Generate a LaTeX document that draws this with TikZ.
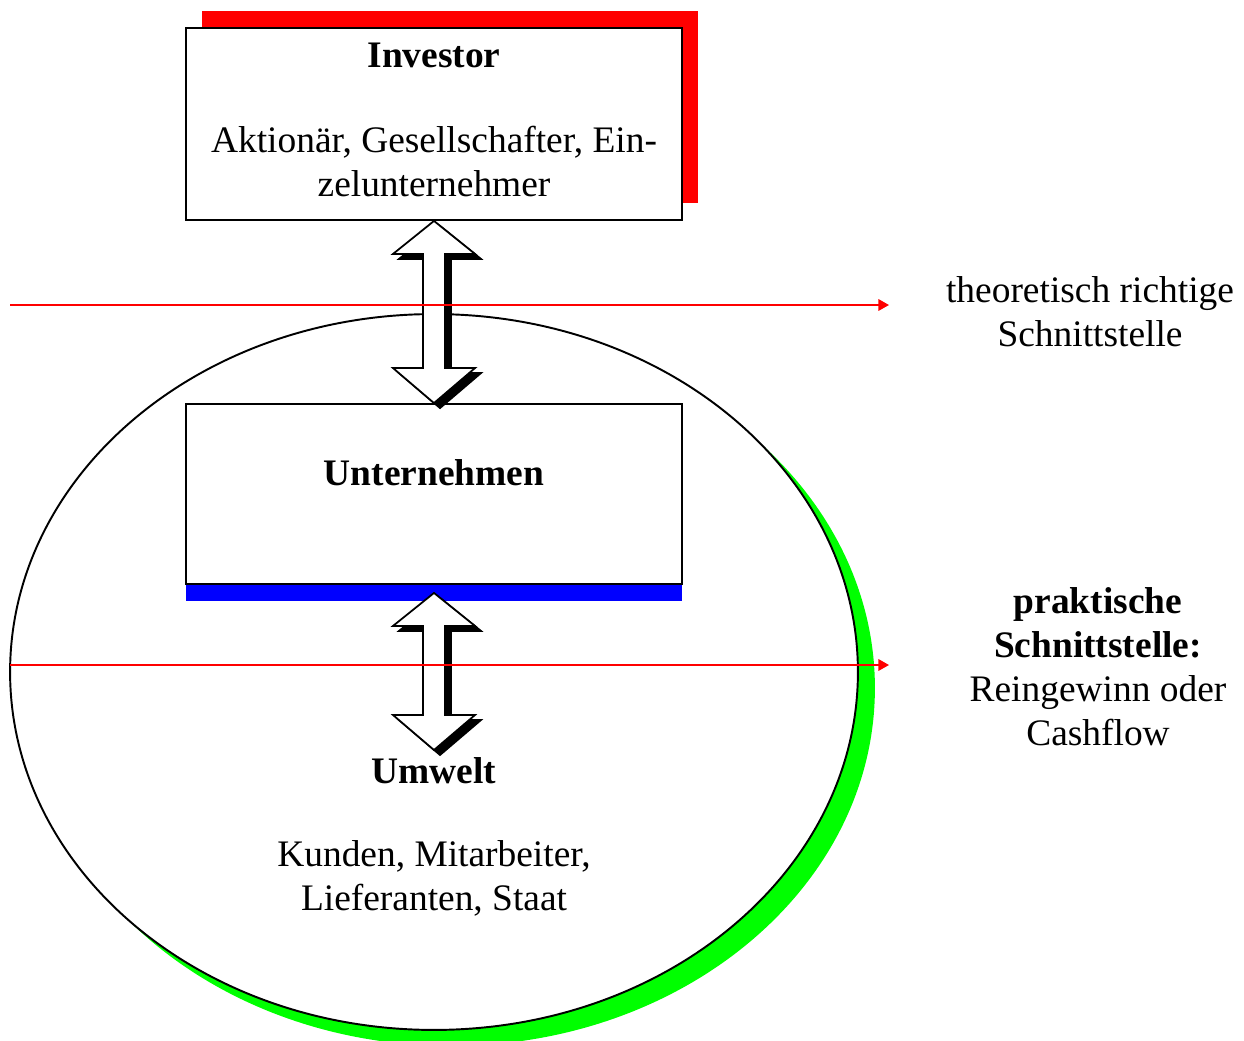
\documentclass[tikz,border=0pt]{standalone}
\usepackage{fontspec}
\setmainfont{Liberation Serif}
\usetikzlibrary{shapes.geometric,shadows,calc,arrows.meta}
% hollow double arrow with a black shadow, from #1 (top tip) to #2 (bottom tip)
\newcommand{\dblarrow}[2]{%
	\foreach \dx/\dy/\sty in {6/5/arrshadow,0/0/arrbody}
	\draw[\sty] ($(#1)+(\dx,\dy)$) -- ($(#1)+(\dx,\dy)+(41,33)$) -- ($(#1)+(\dx,\dy)+(11,33)$)
	-- ($(#2)+(\dx,\dy)+(11,-35)$) -- ($(#2)+(\dx,\dy)+(41,-35)$) -- ($(#2)+(\dx,\dy)$)
	-- ($(#2)+(\dx,\dy)+(-41,-35)$) -- ($(#2)+(\dx,\dy)+(-11,-35)$)
	-- ($(#1)+(\dx,\dy)+(-11,33)$) -- ($(#1)+(\dx,\dy)+(-41,33)$) -- cycle;}
\begin{document}
\begin{tikzpicture}[x=0.02cm,y=-0.02cm,line join=miter,font=\fontsize{21.3}{25}\selectfont,
	box/.style={draw,fill=white,line width=1.1pt,inner sep=0pt,minimum width=9.92cm},
	arrshadow/.style={fill=black,draw=black,line width=1pt},
	arrbody/.style={fill=white,draw=black,line width=1pt},
	redline/.style={red,line width=1pt,-{Triangle[length=6pt,width=6.5pt]}}]
		\useasboundingbox (0,0) rectangle (1244,1041);
		\node[ellipse,draw,fill=white,line width=1.1pt,inner sep=0pt,minimum width=16.96cm,minimum height=14.32cm,
			drop shadow={shadow xshift=0.34cm,shadow yshift=-0.32cm,fill=green,opacity=1}] (env) at (434,672) {};
		\node[box,minimum height=3.84cm,drop shadow={shadow xshift=0.32cm,shadow yshift=0.34cm,fill=red,opacity=1}]
			(inv) at (434,124) {};
		\node[align=center] (invt) at (434,120) {\textbf{Investor}\\[23pt]Aktionär, Gesellschafter, Ein-\\zelunternehmer};
		\node[box,minimum height=3.6cm,drop shadow={shadow xshift=0pt,shadow yshift=-0.34cm,fill=blue,opacity=1}]
			(unt) at (434,494) {};
		\node (untt) at (434,473) {\textbf{Unternehmen}};
		\coordinate (u1) at ($(unt.south)+(0,8)$);
		\coordinate (u2) at (434,750);
		\dblarrow{inv.south}{unt.north}
		\dblarrow{u1}{u2}
		\coordinate (t1) at (10,305);
		\coordinate (t2) at (889,305);
		\coordinate (p1) at (10,665);
		\coordinate (p2) at (889,665);
		\draw[redline] (t1) -- (t2);
		\draw[redline] (p1) -- (p2);
		\node (umw) at (434,771) {\textbf{Umwelt}};
		\node[align=center] (umwt) at (434,878) {Kunden, Mitarbeiter,\\Lieferanten, Staat};
		\node[align=center] (theo) at (1090,312) {theoretisch richtige\\Schnittstelle};
		\node[align=center] (prak) at (1098,667) {\textbf{praktische}\\\textbf{Schnittstelle:}\\Reingewinn oder\\Cashflow};
\end{tikzpicture}
\end{document}
